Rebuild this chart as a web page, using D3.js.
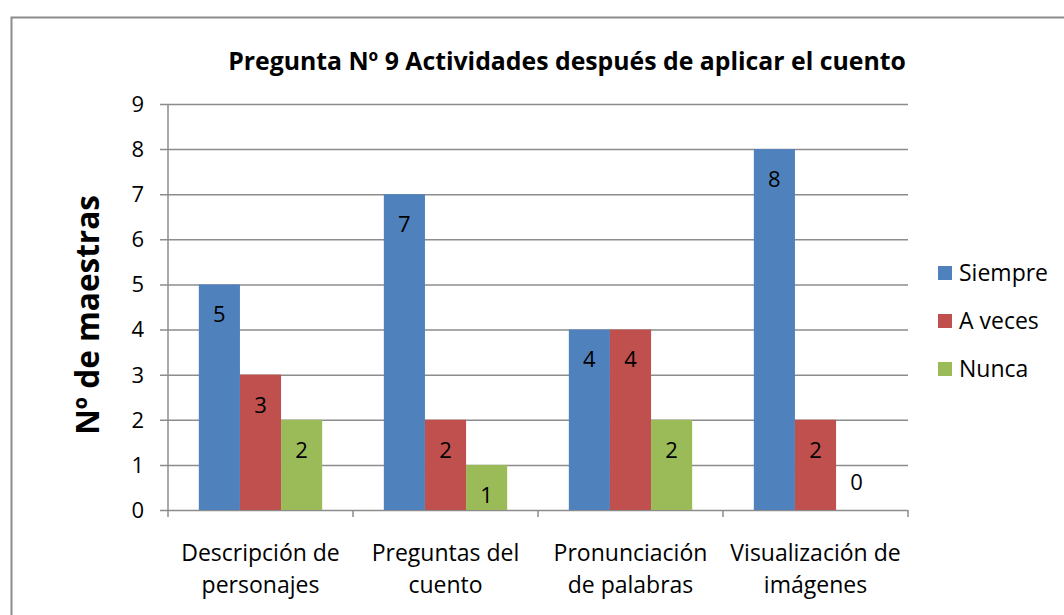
<!DOCTYPE html>
<html>
<head>
<meta charset="utf-8">
<script src="https://cdn.jsdelivr.net/npm/d3@7"></script>
<style>
  body { margin: 0; background: #fff; }
  text { font-family: "Open Sans", sans-serif; }
</style>
</head>
<body>
<svg id="chart" width="1064" height="615"></svg>
<script>
// data
var categories = [["Descripción de", "personajes"], ["Preguntas del", "cuento"],
                  ["Pronunciación", "de palabras"], ["Visualización de", "imágenes"]];
var seriesNames = ["Siempre", "A veces", "Nunca"];
var siempre = [5, 7, 4, 8];
var aVeces = [3, 2, 4, 2];
var nunca = [2, 1, 2, 0];
var yTicks = [0, 1, 2, 3, 4, 5, 6, 7, 8, 9];
var colors = ["#4F81BD", "#C0504D", "#9BBB59"];

var series = [siempre, aVeces, nunca];
var LEFT = 168, RIGHT = 908, TOP = 104, BOTTOM = 510;

var svg = d3.select("#chart");

// outer frame
svg.append("rect")
    .attr("x", 11.5).attr("y", 17.5)
    .attr("width", 1070).attr("height", 620)
    .attr("fill", "none").attr("stroke", "#8c8c8c").attr("stroke-width", 2);

var catKeys = categories.map(function(c, i) { return i; });
var x0 = d3.scaleBand().domain(catKeys).range([LEFT, RIGHT]).paddingInner(1/3).paddingOuter(1/6);
var x1 = d3.scaleBand().domain(d3.range(series.length)).range([0, x0.bandwidth()]);
var y = d3.scaleLinear().domain([0, 9]).range([BOTTOM, TOP]);

// gridlines
svg.append("g").selectAll("line").data(yTicks).enter().append("line")
    .attr("x1", LEFT - 8).attr("x2", RIGHT)
    .attr("y1", function(d) { return y(d) + 0.5; })
    .attr("y2", function(d) { return y(d) + 0.5; })
    .style("stroke", "#8c8c8c").style("stroke-width", 1.5);

// y axis line
svg.append("line").attr("x1", LEFT).attr("x2", LEFT).attr("y1", TOP).attr("y2", BOTTOM)
    .style("stroke", "#8c8c8c").style("stroke-width", 1.5);

// category tick marks
var bounds = d3.range(categories.length + 1).map(function(i) { return LEFT + i * x0.step(); });
svg.append("g").selectAll("line").data(bounds).enter().append("line")
    .attr("x1", function(d) { return d; }).attr("x2", function(d) { return d; })
    .attr("y1", BOTTOM).attr("y2", BOTTOM + 7)
    .style("stroke", "#8c8c8c").style("stroke-width", 1.5);

// y tick labels
svg.append("g").selectAll("text").data(yTicks).enter().append("text")
    .attr("x", 144).attr("y", function(d) { return y(d); })
    .attr("dy", "0.36em").attr("text-anchor", "end")
    .style("font-size", "22px").text(function(d) { return d; });

// bars
var groups = svg.append("g").selectAll("g").data(catKeys).enter().append("g")
    .attr("transform", function(i) { return "translate(" + x0(i) + ",0)"; });

groups.selectAll("rect").data(function(i) {
        return series.map(function(s, k) { return { k: k, v: s[i] }; });
    }).enter().append("rect")
    .attr("x", function(d) { return x1(d.k); })
    .attr("width", x1.bandwidth())
    .attr("y", function(d) { return y(d.v); })
    .attr("height", function(d) { return y(0) - y(d.v); })
    .style("fill", function(d) { return colors[d.k]; });

groups.selectAll("text").data(function(i) {
        return series.map(function(s, k) { return { k: k, v: s[i] }; });
    }).enter().append("text")
    .attr("x", function(d) { return x1(d.k) + x1.bandwidth() / 2; })
    .attr("y", function(d) { return d.v > 0 ? y(d.v) + 30 : y(0) - 28; })
    .attr("dy", "0.36em").attr("text-anchor", "middle")
    .style("font-size", "22px").style("fill", "#000")
    .text(function(d) { return d.v; });

// category labels
var catG = svg.append("g").selectAll("text").data(catKeys).enter().append("text")
    .attr("text-anchor", "middle").style("font-size", "23px");
catG.selectAll("tspan").data(function(i) { return categories[i].map(function(t, j) { return { i: i, j: j, t: t }; }); })
    .enter().append("tspan")
    .attr("x", function(d) { return x0(d.i) + x0.bandwidth() / 2; })
    .attr("y", function(d) { return 561 + d.j * 32; })
    .text(function(d) { return d.t; });

// title
svg.append("text").attr("x", 567).attr("y", 70).attr("text-anchor", "middle")
    .style("font-size", "24.8px").style("font-weight", "bold")
    .text("Pregunta Nº 9 Actividades después de aplicar el cuento");

// y axis title
svg.append("text").attr("transform", "translate(99,315) rotate(-90)")
    .attr("text-anchor", "middle")
    .style("font-size", "31.5px").style("font-weight", "bold")
    .text("Nº de maestras");

// legend
var legend = svg.append("g").selectAll("g").data(seriesNames).enter().append("g")
    .attr("transform", function(d, i) { return "translate(938," + (273 + i * 48) + ")"; });
legend.append("rect").attr("x", 0).attr("y", -7).attr("width", 14).attr("height", 14)
    .style("fill", function(d, i) { return colors[i]; });
legend.append("text").attr("x", 21).attr("dy", "0.36em")
    .style("font-size", "23px").text(function(d) { return d; });
</script>
</body>
</html>
